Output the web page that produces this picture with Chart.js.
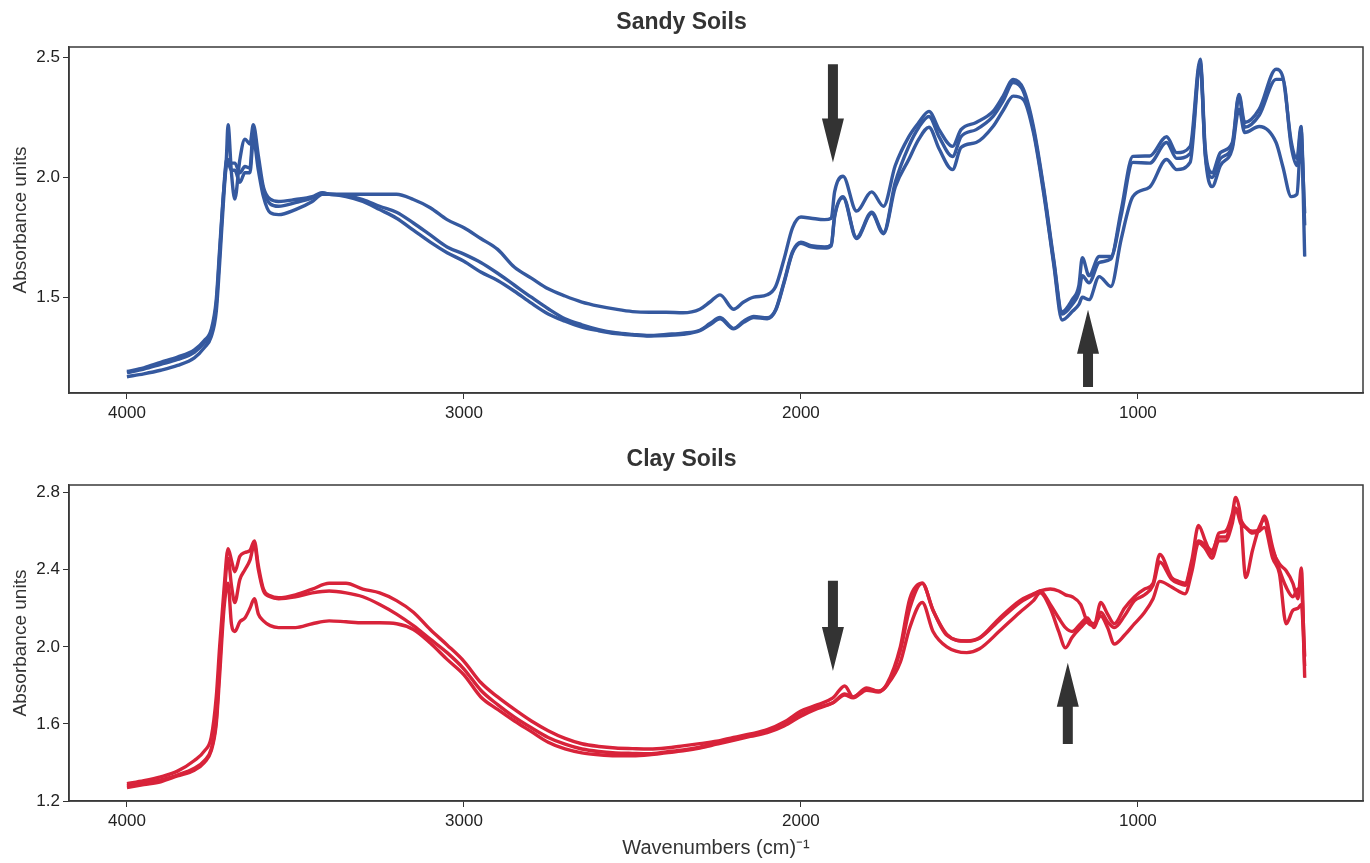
<!DOCTYPE html>
<html>
<head>
<meta charset="utf-8">
<script src="https://cdn.jsdelivr.net/npm/chart.js@4.4.1/dist/chart.umd.min.js"></script>
<style>
  html, body { margin: 0; padding: 0; background: #fff; }
  #wrap { position: relative; width: 1370px; height: 863px; }
  .box { position: absolute; left: 0; width: 1370px; }
  #b1 { top: 0; height: 430px; }
  #b2 { top: 430px; height: 433px; }
</style>
</head>
<body>
<div id="wrap">
  <div class="box" id="b1"><canvas id="c1" width="1370" height="430"></canvas></div>
  <div class="box" id="b2"><canvas id="c2" width="1370" height="433"></canvas></div>
</div>
<script>
// ---------------- DATA ----------------
const xTickValues = [1000, 2000, 3000, 4000];
const sandyYTicks = [1.5, 2.0, 2.5];
const clayYTicks = [1.2, 1.6, 2.0, 2.4, 2.8];

const sandyWn = [4000,3950,3900,3850,3800,3770,3750,3735,3725,3715,3705,3700,3690,3680,3665,3650,3635,3625,3610,3595,3575,3550,3500,3450,3420,3400,3350,3300,3250,3200,3150,3100,3050,3000,2950,2900,2850,2800,2750,2700,2650,2600,2550,2500,2450,2400,2350,2300,2270,2240,2200,2170,2140,2100,2075,2050,2025,2000,1970,1930,1910,1900,1875,1835,1790,1755,1720,1680,1650,1620,1590,1550,1525,1480,1430,1400,1370,1340,1310,1280,1250,1225,1195,1175,1165,1145,1115,1080,1050,1015,965,915,885,845,815,800,780,755,720,700,683,640,590,570,545,528,516,505];
const sandy1 = [1.19,1.205,1.228,1.25,1.28,1.32,1.365,1.49,1.70,1.91,2.08,2.22,2.02,1.91,2.075,2.16,2.14,2.22,2.09,1.96,1.91,1.90,1.908,1.92,1.937,1.93,1.93,1.93,1.93,1.93,1.908,1.874,1.824,1.79,1.745,1.70,1.625,1.58,1.535,1.505,1.48,1.463,1.45,1.44,1.437,1.437,1.435,1.45,1.48,1.51,1.45,1.48,1.50,1.51,1.545,1.66,1.79,1.835,1.83,1.824,1.83,1.94,2.005,1.86,1.94,1.88,2.05,2.17,2.23,2.276,2.20,2.13,2.20,2.23,2.276,2.34,2.41,2.37,2.213,1.96,1.66,1.44,1.49,1.55,1.665,1.59,1.67,1.67,1.86,2.088,2.09,2.17,2.104,2.13,2.494,2.12,2.02,2.104,2.146,2.347,2.23,2.285,2.452,2.42,2.15,2.08,2.213,1.67];
const sandy2 = [1.185,1.20,1.22,1.24,1.27,1.31,1.35,1.47,1.68,1.90,2.07,2.075,2.06,2.06,2.02,2.046,2.04,2.20,2.06,1.95,1.89,1.88,1.895,1.915,1.935,1.93,1.925,1.908,1.88,1.855,1.81,1.76,1.71,1.68,1.645,1.60,1.55,1.50,1.452,1.41,1.385,1.365,1.352,1.345,1.34,1.345,1.35,1.362,1.39,1.415,1.37,1.40,1.42,1.414,1.448,1.565,1.69,1.73,1.715,1.71,1.72,1.84,1.92,1.75,1.855,1.77,1.98,2.13,2.21,2.255,2.17,2.088,2.17,2.20,2.255,2.32,2.397,2.36,2.20,1.95,1.65,1.43,1.47,1.52,1.59,1.56,1.645,1.66,1.84,2.063,2.06,2.146,2.08,2.10,2.48,2.10,2.00,2.08,2.13,2.34,2.21,2.26,2.41,2.41,2.13,2.05,2.20,1.80];
const sandy3 = [1.168,1.18,1.195,1.215,1.247,1.29,1.335,1.44,1.64,1.87,2.05,2.06,2.03,2.03,1.98,2.02,2.02,2.16,2.03,1.92,1.853,1.845,1.866,1.90,1.93,1.93,1.92,1.90,1.866,1.83,1.78,1.73,1.686,1.65,1.605,1.57,1.525,1.475,1.43,1.40,1.375,1.36,1.348,1.342,1.338,1.34,1.345,1.36,1.385,1.41,1.368,1.395,1.415,1.41,1.445,1.56,1.685,1.725,1.71,1.705,1.715,1.835,1.915,1.745,1.85,1.765,1.96,2.075,2.16,2.21,2.12,2.033,2.125,2.146,2.213,2.28,2.34,2.326,2.188,1.937,1.64,1.405,1.44,1.47,1.50,1.49,1.586,1.545,1.74,1.92,1.96,2.075,2.033,2.063,2.47,2.09,1.962,2.05,2.12,2.285,2.188,2.213,2.146,2.046,1.92,1.93,2.15,1.85];

const clayWn = [4000,3950,3900,3850,3800,3770,3750,3735,3725,3712,3700,3690,3680,3665,3650,3635,3622,3610,3595,3575,3550,3500,3450,3400,3350,3300,3250,3200,3150,3100,3050,3000,2950,2900,2850,2800,2750,2700,2650,2600,2550,2500,2450,2400,2350,2300,2250,2200,2150,2100,2050,2000,1950,1905,1870,1845,1805,1770,1745,1705,1677,1640,1608,1567,1508,1470,1410,1350,1310,1290,1260,1235,1215,1195,1170,1150,1130,1110,1090,1070,1040,1010,980,955,935,900,880,860,840,820,800,780,760,740,720,710,695,680,660,640,625,600,580,560,540,525,515,505];
const clay1 = [1.29,1.305,1.325,1.355,1.41,1.46,1.53,1.74,2.0,2.30,2.51,2.45,2.39,2.47,2.49,2.50,2.55,2.42,2.30,2.265,2.255,2.27,2.30,2.33,2.33,2.30,2.28,2.24,2.18,2.09,2.01,1.925,1.815,1.74,1.675,1.615,1.565,1.525,1.497,1.483,1.475,1.472,1.47,1.475,1.486,1.498,1.51,1.53,1.548,1.57,1.61,1.667,1.70,1.735,1.797,1.74,1.787,1.77,1.807,2.0,2.25,2.33,2.19,2.065,2.03,2.047,2.15,2.24,2.275,2.29,2.30,2.29,2.27,2.26,2.22,2.13,2.11,2.23,2.17,2.12,2.20,2.26,2.30,2.33,2.48,2.36,2.34,2.33,2.45,2.63,2.55,2.48,2.59,2.60,2.69,2.775,2.67,2.36,2.50,2.62,2.66,2.50,2.43,2.395,2.33,2.25,2.41,1.84];
const clay2 = [1.28,1.295,1.31,1.335,1.37,1.41,1.47,1.62,1.90,2.25,2.46,2.32,2.23,2.35,2.40,2.45,2.53,2.40,2.29,2.26,2.25,2.26,2.28,2.29,2.28,2.26,2.22,2.17,2.11,2.04,1.97,1.885,1.775,1.70,1.635,1.58,1.53,1.495,1.47,1.457,1.45,1.447,1.445,1.455,1.465,1.48,1.50,1.52,1.54,1.56,1.60,1.65,1.685,1.71,1.755,1.74,1.78,1.77,1.80,1.98,2.20,2.33,2.19,2.06,2.03,2.045,2.14,2.23,2.27,2.29,2.22,2.15,2.10,2.08,2.12,2.15,2.10,2.18,2.13,2.10,2.16,2.24,2.27,2.32,2.44,2.35,2.33,2.32,2.43,2.55,2.53,2.50,2.57,2.57,2.66,2.72,2.66,2.62,2.60,2.61,2.68,2.515,2.40,2.31,2.26,2.30,2.30,1.95];
const clay3 = [1.27,1.285,1.30,1.33,1.36,1.40,1.46,1.60,1.85,2.20,2.33,2.12,2.08,2.13,2.15,2.20,2.25,2.17,2.135,2.11,2.10,2.10,2.12,2.135,2.13,2.125,2.125,2.12,2.09,2.02,1.935,1.855,1.74,1.675,1.615,1.56,1.505,1.47,1.45,1.44,1.435,1.435,1.44,1.45,1.46,1.475,1.495,1.515,1.535,1.555,1.59,1.64,1.68,1.71,1.75,1.735,1.775,1.765,1.80,1.92,2.10,2.23,2.08,2.0,1.97,1.99,2.083,2.18,2.24,2.28,2.20,2.08,1.995,2.05,2.10,2.13,2.12,2.16,2.10,2.015,2.06,2.12,2.18,2.25,2.34,2.31,2.29,2.275,2.39,2.54,2.51,2.46,2.55,2.55,2.64,2.72,2.64,2.62,2.59,2.60,2.62,2.46,2.38,2.12,2.19,2.20,2.22,1.90];

// Arrow annotations (wavenumber, tail value, tip value)
const sandyArrows = [
  { wn: 1905, tail: 2.473, tip: 2.063 },
  { wn: 1148, tail: 1.125, tip: 1.448 }
];
const clayArrows = [
  { wn: 1905, tail: 2.343, tip: 1.875 },
  { wn: 1208, tail: 1.496, tip: 1.917 }
];

// ---------------- HELPERS ----------------
const FONT = "'Liberation Sans', Arial, sans-serif";

function pairs(xs, ys) { return xs.map((x, i) => ({ x: x, y: ys[i] })); }

function makeDatasets(xs, seriesList, mainColor, coreColor) {
  const ds = [];
  seriesList.forEach(s => {
    ds.push({ data: pairs(xs, s), borderColor: mainColor, borderWidth: 3.4,
      pointRadius: 0, cubicInterpolationMode: 'monotone', fill: false });
  });
  seriesList.forEach(s => {
    ds.push({ data: pairs(xs, s), borderColor: coreColor, borderWidth: 1.2,
      pointRadius: 0, cubicInterpolationMode: 'monotone', fill: false });
  });
  return ds;
}

const framePlugin = {
  id: 'frame',
  afterDraw(chart) {
    const { ctx, chartArea: a } = chart;
    ctx.save();
    ctx.strokeStyle = '#3a3a3a';
    ctx.lineWidth = 1.5;
    ctx.strokeRect(a.left, a.top, a.right - a.left, a.bottom - a.top);
    ctx.restore();
  }
};

const arrowPlugin = {
  id: 'arrows',
  afterDatasetsDraw(chart, args, opts) {
    const list = opts.list || [];
    const { ctx, scales: { x, y } } = chart;
    ctx.save();
    ctx.fillStyle = '#333333';
    list.forEach(ar => {
      const px = x.getPixelForValue(ar.wn);
      const pTail = y.getPixelForValue(ar.tail);
      const pTip = y.getPixelForValue(ar.tip);
      const dir = pTip > pTail ? 1 : -1;
      const headLen = 44, headW = 11, shaftW = 5;
      const headBase = pTip - dir * headLen;
      ctx.beginPath();
      ctx.moveTo(px - shaftW, pTail);
      ctx.lineTo(px + shaftW, pTail);
      ctx.lineTo(px + shaftW, headBase);
      ctx.lineTo(px + headW, headBase);
      ctx.lineTo(px, pTip);
      ctx.lineTo(px - headW, headBase);
      ctx.lineTo(px - shaftW, headBase);
      ctx.closePath();
      ctx.fill();
    });
    ctx.restore();
  }
};

function makeChart(canvasId, cfg) {
  return new Chart(document.getElementById(canvasId), {
    type: 'line',
    data: { datasets: makeDatasets(cfg.xs, cfg.series, cfg.color, cfg.core) },
    options: {
      responsive: false,
      animation: false,
      events: [],
      layout: { padding: { left: 0, right: 7, top: 0, bottom: 0 } },
      plugins: {
        legend: { display: false },
        tooltip: { enabled: false },
        title: {
          display: true, text: cfg.title, color: '#333',
          font: { family: FONT, size: 23, weight: 'bold' },
          padding: cfg.titlePad
        },
        arrows: { list: cfg.arrows }
      },
      scales: {
        x: {
          type: 'linear', reverse: true, min: 332, max: 4172,
          afterFit: s => { s.height = cfg.xHeight; },
          afterBuildTicks: s => { s.ticks = xTickValues.map(v => ({ value: v })); },
          grid: { display: true, drawOnChartArea: false, drawTicks: true, tickLength: 6, color: '#333', tickColor: '#333' },
          border: { display: true, color: '#3a3a3a', width: 1.5 },
          ticks: { color: '#222', font: { family: FONT, size: 17 }, padding: 4, maxRotation: 0,
                   callback: v => String(v) },
          title: cfg.xTitle ? { display: true, text: cfg.xTitle, color: '#333',
                   font: { family: FONT, size: 20 }, padding: { top: 0, bottom: 3 } } : { display: false }
        },
        y: {
          type: 'linear', min: cfg.ymin, max: cfg.ymax,
          afterFit: s => { s.width = 69; },
          afterBuildTicks: s => { s.ticks = cfg.yTicks.map(v => ({ value: v })); },
          grid: { display: true, drawOnChartArea: false, drawTicks: true, tickLength: 6, color: '#333', tickColor: '#333' },
          border: { display: true, color: '#3a3a3a', width: 1.5 },
          ticks: { color: '#222', font: { family: FONT, size: 17 }, padding: 3,
                   callback: v => Number(v).toFixed(1) },
          title: { display: true, text: 'Absorbance units', color: '#333',
                   font: { family: FONT, size: 19 }, padding: { top: 9, bottom: 0 } }
        }
      }
    },
    plugins: [framePlugin, arrowPlugin]
  });
}

makeChart('c1', {
  xs: sandyWn, series: [sandy1, sandy2, sandy3],
  color: '#35599f', core: 'rgba(22,32,72,0.8)',
  title: 'Sandy Soils', titlePad: { top: 8.4, bottom: 11 },
  ymin: 1.10, ymax: 2.545, yTicks: sandyYTicks,
  xHeight: 37, xTitle: null, arrows: sandyArrows
});

makeChart('c2', {
  xs: clayWn, series: [clay1, clay2, clay3],
  color: '#d8233a', core: 'rgba(60,22,26,0.75)',
  title: 'Clay Soils', titlePad: { top: 16.2, bottom: 11.2 },
  ymin: 1.2, ymax: 2.84, yTicks: clayYTicks,
  xHeight: 62, xTitle: 'Wavenumbers (cm)⁻¹', arrows: clayArrows
});
</script>
</body>
</html>
